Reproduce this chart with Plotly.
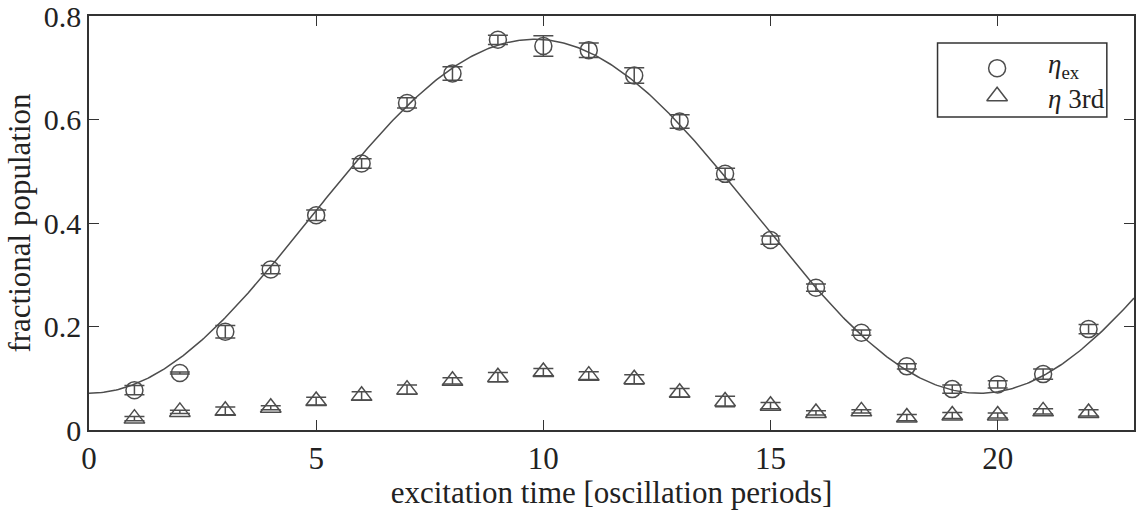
import numpy as np
import plotly.graph_objects as go

# excitation time in oscillation periods
t_periods = [1, 2, 3, 4, 5, 6, 7, 8, 9, 10, 11, 12, 13, 14, 15, 16, 17, 18, 19, 20, 21, 22]

# excited fraction and its uncertainty
eta_ex = [0.077, 0.110, 0.190, 0.310, 0.415, 0.515, 0.632, 0.689, 0.754, 0.742, 0.734,
          0.685, 0.596, 0.495, 0.367, 0.275, 0.188, 0.123, 0.079, 0.088, 0.108, 0.195]
eta_ex_err = [0.009, 0.002, 0.012, 0.008, 0.010, 0.009, 0.010, 0.013, 0.009, 0.020, 0.014,
              0.015, 0.013, 0.011, 0.008, 0.007, 0.005, 0.005, 0.008, 0.007, 0.010, 0.009]

# third-level fraction and its uncertainty
eta_3rd = [0.022, 0.035, 0.037, 0.043, 0.056, 0.066, 0.078, 0.095, 0.102, 0.112, 0.105,
           0.098, 0.072, 0.055, 0.047, 0.033, 0.036, 0.024, 0.028, 0.028, 0.036, 0.033]
eta_3rd_err = [0.004, 0.003, 0.0075, 0.004, 0.0075, 0.008, 0.009, 0.006, 0.009, 0.007, 0.0075,
               0.009, 0.008, 0.010, 0.006, 0.004, 0.003, 0.006, 0.006, 0.005, 0.005, 0.006]

# sinusoidal fit to eta_ex: offset + amplitude * cos(2*pi*(t - t_peak)/period)
fit_offset = 0.413
fit_amplitude = 0.342
fit_t_peak = 9.8
fit_period = 19.6

x_ticks = [0, 5, 10, 15, 20]
y_ticks = [0, 0.2, 0.4, 0.6, 0.8]
y_tick_text = ["0", "0.2", "0.4", "0.6", "0.8"]

INK = "#4d4d4d"
FRAME = "#333333"
TEXT = "#222222"
FONT = "Liberation Serif"

t_fit = np.linspace(0, 23, 500)
y_fit = fit_offset + fit_amplitude * np.cos(2 * np.pi * (t_fit - fit_t_peak) / fit_period)

fig = go.Figure()

fig.add_trace(go.Scatter(
    x=t_fit, y=y_fit, mode="lines",
    line=dict(color=INK, width=1.5), showlegend=False, hoverinfo="skip",
))

fig.add_trace(go.Scatter(
    x=t_periods, y=eta_ex, mode="markers",
    marker=dict(symbol="circle-open", size=17, color=INK, line=dict(width=1.5, color=INK)),
    error_y=dict(type="data", array=eta_ex_err, visible=True, color=INK, thickness=1.5, width=10),
    showlegend=False,
))

fig.add_trace(go.Scatter(
    x=t_periods, y=eta_3rd, mode="markers",
    marker=dict(symbol="triangle-up-open", size=18, color=INK, line=dict(width=1.5, color=INK)),
    error_y=dict(type="data", array=eta_3rd_err, visible=True, color=INK, thickness=1.5, width=10),
    showlegend=False,
))

# legend keys drawn on an overlay axis spanning the plot area
fig.add_trace(go.Scatter(
    x=[0.869], y=[0.874], mode="markers", xaxis="x2", yaxis="y2",
    marker=dict(symbol="circle-open", size=17, color=INK, line=dict(width=1.5, color=INK)),
    showlegend=False, hoverinfo="skip",
))
fig.add_trace(go.Scatter(
    x=[0.869], y=[0.806], mode="markers", xaxis="x2", yaxis="y2",
    marker=dict(symbol="triangle-up-open", size=18, color=INK, line=dict(width=1.5, color=INK)),
    showlegend=False, hoverinfo="skip",
))

axis_common = dict(
    showgrid=False, zeroline=False, showline=True, linecolor=FRAME, linewidth=1.5,
    mirror="ticks", ticks="inside", ticklen=10, tickwidth=1.2, tickcolor=FRAME,
    ticklabeloverflow="allow",
)

fig.update_layout(
    width=1137, height=510,
    margin=dict(l=89, r=3, t=16, b=80, autoexpand=False),
    paper_bgcolor="white", plot_bgcolor="white",
    font=dict(family=FONT, color=TEXT),
    xaxis=dict(
        range=[0, 23], tickvals=x_ticks, ticktext=[str(v) for v in x_ticks],
        tickfont=dict(family=FONT, size=31, color=TEXT),
        title=dict(text="excitation time [oscillation periods]", font=dict(family=FONT, size=31), standoff=3),
        **axis_common,
    ),
    yaxis=dict(
        range=[0, 0.8], tickvals=y_ticks, ticktext=y_tick_text,
        tickfont=dict(family=FONT, size=30, color=TEXT),
        title=dict(text="fractional population", font=dict(family=FONT, size=31), standoff=4),
        **axis_common,
    ),
    xaxis2=dict(overlaying="x", range=[0, 1], visible=False, fixedrange=True),
    yaxis2=dict(overlaying="y", range=[0, 1], visible=False, fixedrange=True),
    shapes=[dict(
        type="rect", xref="paper", yref="paper",
        x0=0.812, x1=0.974, y0=0.756, y1=0.935,
        line=dict(color=FRAME, width=1.5), fillcolor="rgba(0,0,0,0)",
    )],
    annotations=[
        dict(xref="paper", yref="paper", x=0.916, y=0.88, xanchor="left", yanchor="middle",
             text="<i>η</i><sub>ex</sub>", showarrow=False,
             font=dict(family=FONT, size=27, color=TEXT)),
        dict(xref="paper", yref="paper", x=0.916, y=0.80, xanchor="left", yanchor="middle",
             text="<i>η</i> 3rd", showarrow=False,
             font=dict(family=FONT, size=27, color=TEXT)),
    ],
)

fig.write_html("out.html")
